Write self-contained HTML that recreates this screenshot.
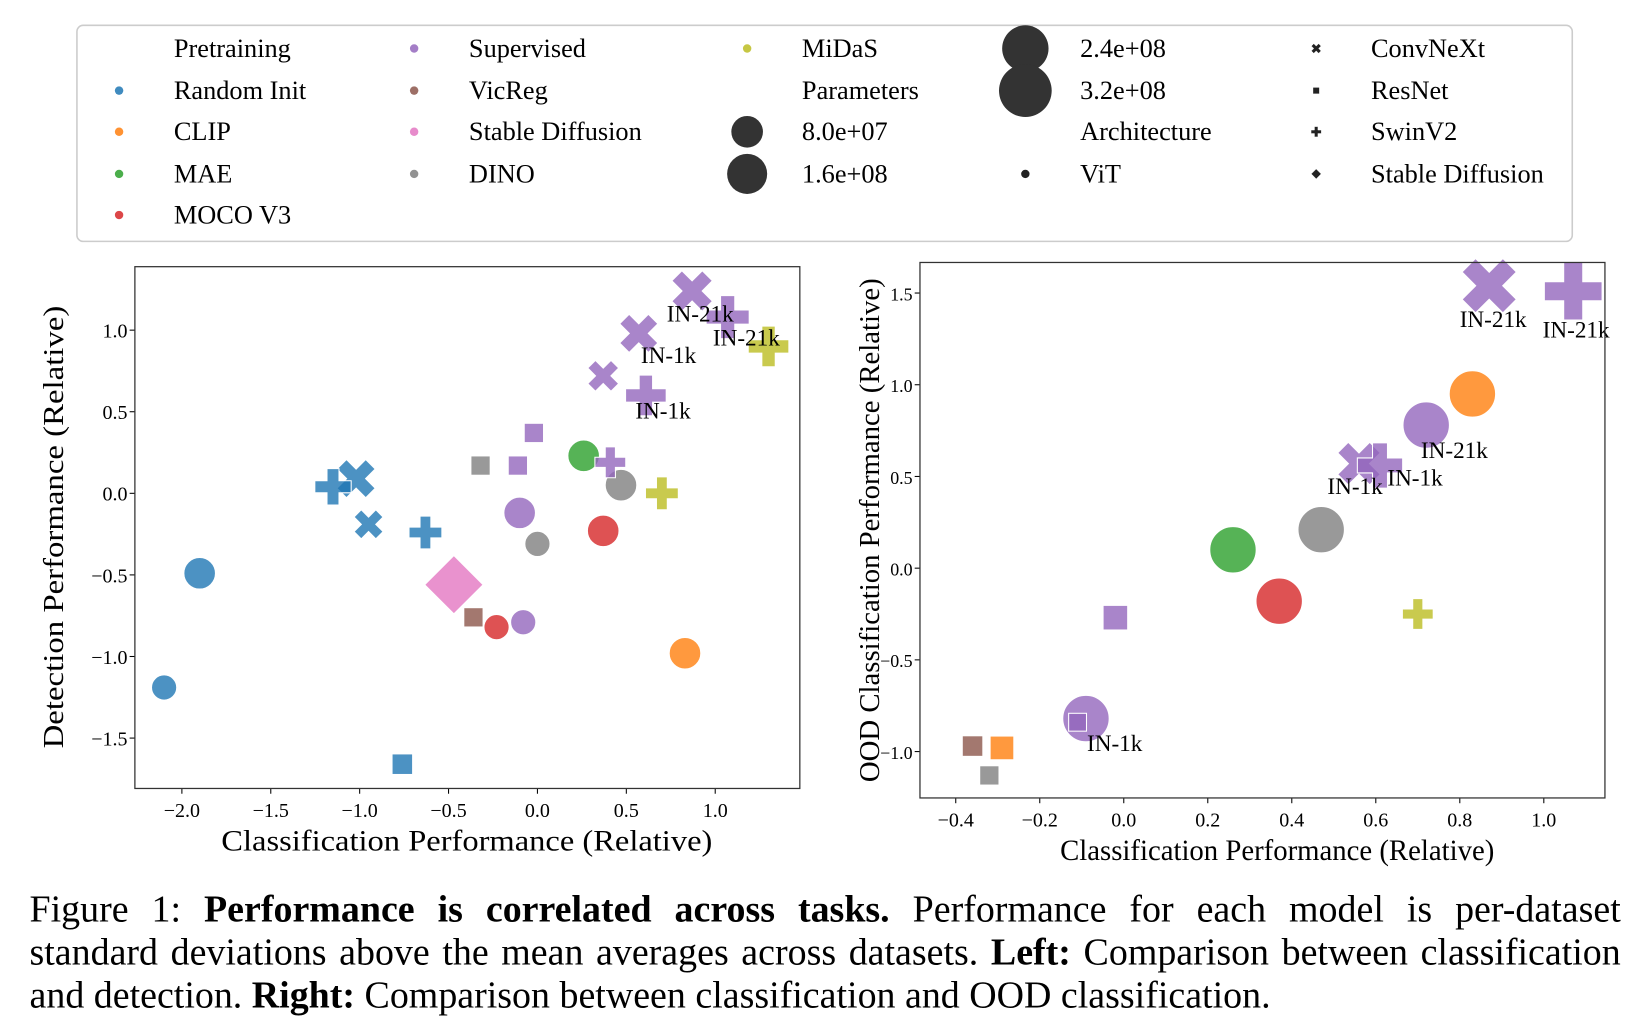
<!DOCTYPE html>
<html><head><meta charset="utf-8"><style>
html,body{margin:0;padding:0;background:#fff;width:1644px;height:1033px;overflow:hidden}
#wrap{width:1560px;height:980px;transform:scale(1.0538,1.0541);transform-origin:0 0;position:relative}
svg text{font-family:"Liberation Serif",serif}
#cap{position:absolute;left:28px;top:842px;width:1510px;font-family:"Liberation Serif",serif;font-size:36px;line-height:41px;color:#000}
#cap .j{display:block;text-align:justify;text-align-last:justify}
#cap .l{display:block;white-space:nowrap}
</style></head><body>
<div id="wrap">
<svg id="svg" width="1560" height="840">
<rect x="73" y="24" width="1419" height="205" rx="6" fill="#fff" stroke="#ccc" stroke-width="1.5"/>
<g id="legend"></g>
<g id="left"></g><g id="right"></g>
</svg>
<div id="cap"><span class="j">Figure 1: <b>Performance is correlated across tasks.</b> Performance for each model is per-dataset</span><span class="j">standard deviations above the mean averages across datasets. <b>Left:</b> Comparison between classification</span><span class="l">and detection. <b>Right:</b> Comparison between classification and OOD classification.</span></div>
</div>
<script>
// ---- data ----
const colorNames = ["Random Init","CLIP","MAE","MOCO V3","Supervised","VicReg","Stable Diffusion","DINO","MiDaS"];
const colorVals = ["#1f77b4","#ff7f0e","#2ca02c","#d62728","#9467bd","#8c564b","#e377c2","#7f7f7f","#bcbd22"];
// left: classification vs detection
const leftX = [-1.9,-2.1,-1.02,-1.15,-0.95,-0.63,-0.76,-0.47,-0.36,-0.23,0.37,-0.08,-0.1,-0.32,0.0,0.47,-0.11,-0.02,0.26,0.41,0.37,0.57,0.61,0.87,1.07,1.3,0.7,0.83];
const leftY = [-0.49,-1.19,0.09,0.04,-0.19,-0.24,-1.66,-0.56,-0.76,-0.82,-0.23,-0.79,-0.12,0.17,-0.31,0.05,0.17,0.37,0.23,0.19,0.72,0.98,0.6,1.24,1.08,0.9,0.0,-0.98];
const leftPre = ["Random Init","Random Init","Random Init","Random Init","Random Init","Random Init","Random Init","Stable Diffusion","VicReg","MOCO V3","MOCO V3","Supervised","Supervised","DINO","DINO","DINO","Supervised","Supervised","MAE","Supervised","Supervised","Supervised","Supervised","Supervised","Supervised","MiDaS","MiDaS","CLIP"];
const leftArch = ["ViT","ViT","ConvNeXt","SwinV2","ConvNeXt","SwinV2","ResNet","Stable Diffusion","ResNet","ViT","ViT","ViT","ViT","ResNet","ViT","ViT","ResNet","ResNet","ViT","SwinV2","ConvNeXt","ConvNeXt","SwinV2","ConvNeXt","SwinV2","SwinV2","SwinV2","ViT"];
const leftParams = [80,42,110,80,50,60,60,160,50,42,80,42,80,50,42,80,50,50,80,50,60,110,110,130,130,110,60,80];
const leftLbl = ["","","","","","","","","","","","","","","","","","","","","","IN-1k","IN-1k","IN-21k","IN-21k","","",""];
// right: classification vs OOD classification
const rightX = [0.87,1.07,0.83,0.72,0.56,0.61,0.47,0.26,0.37,-0.02,0.7,-0.09,-0.11,-0.36,-0.29,-0.32];
const rightY = [1.54,1.51,0.95,0.78,0.57,0.56,0.21,0.1,-0.18,-0.27,-0.25,-0.82,-0.84,-0.97,-0.98,-1.13];
const rightPre = ["Supervised","Supervised","CLIP","Supervised","Supervised","Supervised","DINO","MAE","MOCO V3","Supervised","MiDaS","Supervised","Supervised","VicReg","CLIP","DINO"];
const rightArch = ["ConvNeXt","SwinV2","ViT","ViT","ConvNeXt","SwinV2","ViT","ViT","ViT","ResNet","SwinV2","ViT","ResNet","ResNet","ResNet","ResNet"];
const rightParams = [300,300,240,240,150,150,240,240,240,100,50,240,40,60,90,50];
const rightLbl = ["IN-21k","IN-21k","","IN-21k","IN-1k","IN-1k","","","","","","IN-1k","","","",""];
const leftXTicks = [-2.0,-1.5,-1.0,-0.5,0.0,0.5,1.0];
const leftYTicks = [-1.5,-1.0,-0.5,0.0,0.5,1.0];
const rightXTicks = [-0.4,-0.2,0.0,0.2,0.4,0.6,0.8,1.0];
const rightYTicks = [-1.0,-0.5,0.0,0.5,1.0,1.5];
// label offsets (styling only, pixels relative to marker)
const leftLblDx = [0,0,0,0,0,0,0,0,0,0,0,0,0,0,0,0,0,0,0,0,0,2,-10,-24,-14,0,0,0];
const leftLblDy = [0,0,0,0,0,0,0,0,0,0,0,0,0,0,0,0,0,0,0,0,0,28,22,29,27,0,0,0];
const rightLblDx = [-28,-29,0,-5,-30,7,0,0,0,0,0,1,0,0,0,0];
const rightLblDy = [39,44,0,31,29,19,0,0,0,0,0,31,0,0,0,0];

const NS="http://www.w3.org/2000/svg";
function mk(parent,tag,attrs){const e=document.createElementNS(NS,tag);for(const k in attrs)e.setAttribute(k,attrs[k]);parent.appendChild(e);return e;}
function fmt(v){const s=v.toFixed(1);return v<0?"\u2212"+s.slice(1):s;}
function rad(p,k){return k*15*Math.pow(p/80,0.35);}
function marker(g,shape,cx,cy,r,col,alpha){
  let e;const st={fill:col,"fill-opacity":alpha,stroke:"#fff","stroke-width":1};
  if(shape==="ViT"){e=mk(g,"ellipse",Object.assign({cx:cx,cy:cy,rx:r,ry:r},st));}
  else if(shape==="ResNet"){const h=r*0.72;e=mk(g,"rect",Object.assign({x:cx-h,y:cy-h,width:2*h,height:2*h},st));}
  else if(shape==="Stable Diffusion"){const h=r*1.45;e=mk(g,"polygon",Object.assign({points:`${cx},${cy-h} ${cx+h},${cy} ${cx},${cy+h} ${cx-h},${cy}`},st));}
  else{const L=r*1.15,w=r*0.38;
    let pts=[[-w,-L],[w,-L],[w,-w],[L,-w],[L,w],[w,w],[w,L],[-w,L],[-w,w],[-L,w],[-L,-w],[-w,-w]];
    if(shape==="ConvNeXt"){const c=Math.SQRT1_2;pts=pts.map(([a,b])=>[(a-b)*c,(a+b)*c]);}
    e=mk(g,"polygon",Object.assign({points:pts.map(([a,b])=>(cx+a)+","+(cy+b)).join(" ")},st));}
  return e;
}
function plot(id,cfg){
  const g=document.getElementById(id);
  const {x0,x1,y0,y1}=cfg;
  const sx=v=>cfg.px0+(v-cfg.vx0)*cfg.kx, sy=v=>cfg.py0-(v-cfg.vy0)*cfg.ky;
  cfg.xt.forEach(t=>{const x=sx(t);
    const l=mk(g,"line",{x1:x,x2:x,y1:y1,y2:y1+5,stroke:"#000","stroke-width":1});
    
    const tx=mk(g,"text",{x:x,y:y1+27,"font-size":19,"text-anchor":"middle"});tx.textContent=fmt(t);
    });
  cfg.yt.forEach(t=>{const y=sy(t);
    const l=mk(g,"line",{x1:x0-5,x2:x0,y1:y,y2:y,stroke:"#000","stroke-width":1});
    
    const tx=mk(g,"text",{x:x0-7,y:y+7,"font-size":cfg.ytf,"text-anchor":"end"});tx.textContent=fmt(t);
    });
  const X=cfg.X,Y=cfg.Y;
  X.forEach((v,i)=>{const m=marker(g,cfg.A[i],sx(v),sy(Y[i]),rad(cfg.P[i],cfg.k),colorVals[colorNames.indexOf(cfg.C[i])],0.8);
    
    });
  X.forEach((v,i)=>{if(!cfg.L[i])return;const t=mk(g,"text",{x:sx(v)+cfg.ldx[i],y:sy(Y[i])+cfg.ldy[i],"font-size":22});t.textContent=cfg.L[i];
    });
  const fr=mk(g,"rect",{x:x0,y:y0,width:x1-x0,height:y1-y0,fill:"none",stroke:"#333","stroke-width":1.2});
  
  const xl=mk(g,"text",{x:cfg.xlx,y:y1+59,"font-size":28,"text-anchor":"middle",textLength:cfg.xlw,lengthAdjust:"spacingAndGlyphs"});xl.textContent="Classification Performance (Relative)";
  
  const cy=cfg.ylc;
  const yl=mk(g,"text",{x:cfg.ylx,y:cy,"font-size":27,"text-anchor":"middle",textLength:cfg.ylw,lengthAdjust:"spacingAndGlyphs",transform:`rotate(-90 ${cfg.ylx} ${cy})`});yl.textContent=cfg.ylab;
  
}
plot("left",{x0:128,x1:759,y0:253,y1:748,px0:510,vx0:0,kx:168.7,py0:468,vy0:0,ky:154.8,xt:leftXTicks,yt:leftYTicks,ytf:19,
  X:leftX,Y:leftY,C:leftPre,A:leftArch,P:leftParams,L:leftLbl,k:1,ldx:leftLblDx,ldy:leftLblDy,
  xlx:443,xlw:466,ylx:60,ylc:500,ylw:420,ylab:"Detection Performance (Relative)"});
plot("right",{x0:873,x1:1523,y0:249,y1:757,px0:1066.4,vx0:0,kx:398.6,py0:539,vy0:0,ky:174,xt:rightXTicks,yt:rightYTicks,ytf:17,
  X:rightX,Y:rightY,C:rightPre,A:rightArch,P:rightParams,L:rightLbl,k:1,ldx:rightLblDx,ldy:rightLblDy,
  xlx:1212,xlw:412,ylx:834,ylc:503,ylw:478,ylab:"OOD Classification Performance (Relative)"});

// legend
const lg=document.getElementById("legend");
function ltext(x,y,s){const t=mk(lg,"text",{x:x,y:y+8,"font-size":25});t.textContent=s;
  }
const rows=[46,86,125,165,204];
const legendItems=[
  [113,165,0,null,"Pretraining"],[113,165,1,0],[113,165,2,1],[113,165,3,2],[113,165,4,3],
  [393,445,0,4],[393,445,1,5],[393,445,2,6],[393,445,3,7],[709,761,0,8]];
legendItems.forEach(([mx,tx,r,ci,hdr])=>{
  if(ci===null){ltext(tx,rows[r],hdr);return;}
  const c=mk(lg,"circle",{cx:mx,cy:rows[r],r:4,fill:colorVals[ci],"fill-opacity":0.85});
  
  ltext(tx,rows[r],colorNames[ci]);});
ltext(761,rows[1],"Parameters");
const psz=[["8.0e+07",709,2,15],["1.6e+08",709,3,19],["2.4e+08",973,0,22],["3.2e+08",973,1,25]];
psz.forEach(([s,x,r,rr])=>{const c=mk(lg,"circle",{cx:x,cy:rows[r],r:rr,fill:"#333"});
  ltext(x+52,rows[r],s);});
ltext(1025,rows[2],"Architecture");
const vit=mk(lg,"circle",{cx:973,cy:rows[3],r:4,fill:"#222"});

ltext(1025,rows[3],"ViT");
[["ConvNeXt",0],["ResNet",1],["SwinV2",2],["Stable Diffusion",3]].forEach(([a,r])=>{
  const m=marker(lg,a,1249,rows[r],a==="Stable Diffusion"?3.2:4.2,"#222",1);m.setAttribute("stroke-width",0.3);
  
  ltext(1301,rows[r],a);});
</script>
</body></html>
